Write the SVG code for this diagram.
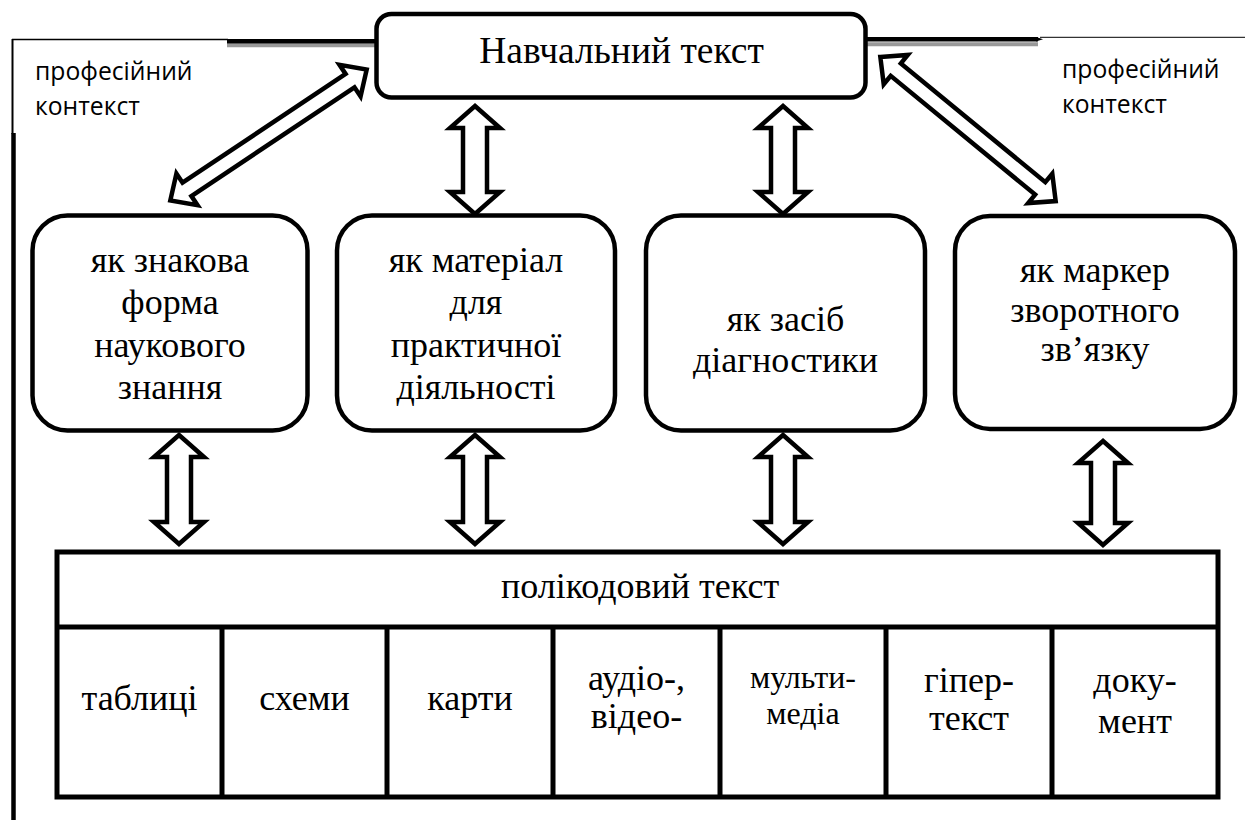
<svg xmlns="http://www.w3.org/2000/svg" width="1245" height="825" viewBox="0 0 1245 825">
<style>
.box{fill:#fff;stroke:#000;stroke-width:4.5}
.arr{fill:#fff;stroke:#000;stroke-width:4.5;stroke-linejoin:miter;stroke-miterlimit:10}
.serif{font-family:'Liberation Serif','DejaVu Serif',serif;font-size:36px;fill:#000;text-anchor:middle}
.sans{font-family:'Open Sans','Noto Sans',sans-serif;font-size:24.7px;fill:#000}
.cell{fill:none;stroke:#000;stroke-width:5}
</style>
<rect width="1245" height="825" fill="#fff"/>
<g id="context-frame">
  <line x1="12" y1="39.5" x2="228" y2="39.5" stroke="#000" stroke-width="1.5"/>
  <line x1="12.5" y1="39" x2="12.5" y2="134" stroke="#000" stroke-width="2"/>
  <line x1="13.5" y1="133" x2="13.5" y2="820" stroke="#000" stroke-width="4.5"/>
  <line x1="227" y1="45.3" x2="376" y2="45.3" stroke="#999" stroke-width="4"/>
  <line x1="227" y1="41.3" x2="376" y2="41.3" stroke="#000" stroke-width="4.5"/>
  <line x1="866" y1="44.2" x2="1038" y2="44.2" stroke="#999" stroke-width="4"/>
  <line x1="866" y1="39.2" x2="1038" y2="39.2" stroke="#000" stroke-width="4.5"/>
  <polygon points="1036,37 1043,39.2 1036,41.4" fill="#000"/>
  <line x1="1040" y1="37.3" x2="1245" y2="37.3" stroke="#000" stroke-width="1"/>
  <text class="sans" x="35" y="80">професійний</text>
  <text class="sans" x="35" y="115">контекст</text>
  <text class="sans" x="1062" y="78">професійний</text>
  <text class="sans" x="1062" y="113">контекст</text>
</g>
<g id="connectors">
  <g transform="translate(268.5,135) rotate(-33.69)">
    <polygon class="arr" points="-118,0 -98,-19 -98,-8 98,-8 98,-19 118,0 98,19 98,8 -98,8 -98,19"/>
  </g>
  <g transform="translate(968,129) rotate(39.43)">
    <polygon class="arr" points="-113.5,0 -93.5,-19 -93.5,-8 93.5,-8 93.5,-19 113.5,0 93.5,19 93.5,8 -93.5,8 -93.5,19"/>
  </g>
  <polygon class="arr" points="475,106 500,128 487,128 487,192 500,192 475,214 450,192 463,192 463,128 450,128"/>
  <polygon class="arr" points="783,106 808,128 795,128 795,192 808,192 783,214 758,192 771,192 771,128 758,128"/>
  <polygon class="arr" points="179,435 204,457 191,457 191,522 204,522 179,544 154,522 167,522 167,457 154,457"/>
  <polygon class="arr" points="475,435 500,457 487,457 487,522 500,522 475,544 450,522 463,522 463,457 450,457"/>
  <polygon class="arr" points="783,435 808,457 795,457 795,522 808,522 783,544 758,522 771,522 771,457 758,457"/>
  <polygon class="arr" points="1103,441 1128,463 1115,463 1115,523 1128,523 1103,545 1078,523 1091,523 1091,463 1078,463"/>
</g>
<g id="node-top">
  <rect class="box" x="376.5" y="14" width="489" height="83.5" rx="15"/>
  <text class="serif" x="621.5" y="63" style="font-size:37.5px">Навчальний текст</text>
</g>
<g id="node-1">
  <rect class="box" x="32.5" y="215.5" width="275" height="215" rx="35"/>
  <text class="serif" x="170" y="272">як знакова</text>
  <text class="serif" x="170" y="314">форма</text>
  <text class="serif" x="170" y="357">наукового</text>
  <text class="serif" x="170" y="399">знання</text>
</g>
<g id="node-2">
  <rect class="box" x="337" y="215.5" width="278" height="215" rx="35"/>
  <text class="serif" x="476" y="272">як матеріал</text>
  <text class="serif" x="476" y="314">для</text>
  <text class="serif" x="476" y="357">практичної</text>
  <text class="serif" x="476" y="399">діяльності</text>
</g>
<g id="node-3">
  <rect class="box" x="646" y="215.5" width="279" height="215" rx="35"/>
  <text class="serif" x="785.5" y="331">як засіб</text>
  <text class="serif" x="785.5" y="372">діагностики</text>
</g>
<g id="node-4">
  <rect class="box" x="955" y="216" width="280" height="213" rx="35"/>
  <text class="serif" x="1095" y="282">як маркер</text>
  <text class="serif" x="1095" y="322">зворотного</text>
  <text class="serif" x="1095" y="361">зв’язку</text>
</g>
<g id="node-polycode">
  <rect class="cell" x="57" y="552" width="1161" height="245" fill="#fff"/>
  <line class="cell" x1="57" y1="627" x2="1218" y2="627"/>
  <line class="cell" x1="222" y1="627" x2="222" y2="797"/>
  <line class="cell" x1="387" y1="627" x2="387" y2="797"/>
  <line class="cell" x1="553" y1="627" x2="553" y2="797"/>
  <line class="cell" x1="720" y1="627" x2="720" y2="797"/>
  <line class="cell" x1="886" y1="627" x2="886" y2="797"/>
  <line class="cell" x1="1052" y1="627" x2="1052" y2="797"/>
  <text class="serif" x="640" y="598">полікодовий текст</text>
  <text class="serif" x="139.5" y="710">таблиці</text>
  <text class="serif" x="304.5" y="710">схеми</text>
  <text class="serif" x="470" y="710">карти</text>
  <text class="serif" x="636.5" y="690">аудіо-,</text>
  <text class="serif" x="636.5" y="728">відео-</text>
  <text class="serif" x="803" y="688" style="font-size:32px">мульти-</text>
  <text class="serif" x="803" y="724" style="font-size:32px">медіа</text>
  <text class="serif" x="969" y="692">гіпер-</text>
  <text class="serif" x="969" y="730">текст</text>
  <text class="serif" x="1135" y="692">доку-</text>
  <text class="serif" x="1135" y="733">мент</text>
</g>
</svg>
